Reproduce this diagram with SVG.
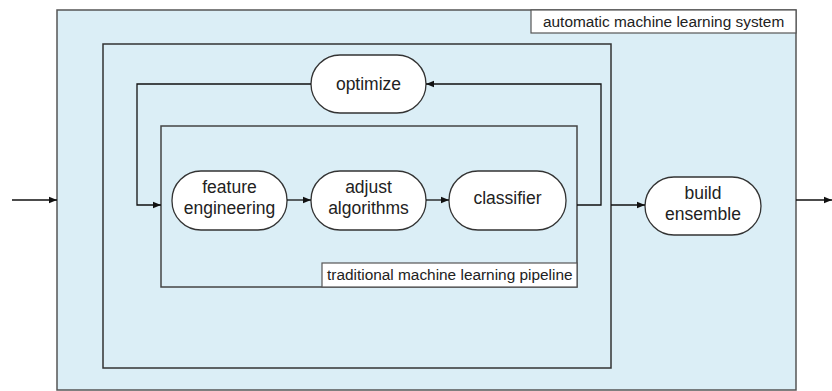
<svg xmlns="http://www.w3.org/2000/svg" width="832" height="391" viewBox="0 0 832 391">
<style>
.frame{fill:#dbeef6;stroke:#555;stroke-width:1.5}
.mid{fill:none;stroke:#333;stroke-width:1.5}
.lbl{fill:#fff;stroke:#555;stroke-width:1.2}
.node{fill:#fff;stroke:#333;stroke-width:1.3}
.t{font-family:"Liberation Sans",Arial,sans-serif;font-size:17.5px;fill:#222;text-anchor:middle}
.lt{font-family:"Liberation Sans",Arial,sans-serif;font-size:15.4px;fill:#222}
.c{fill:none;stroke:#111;stroke-width:1.3}
</style>
<defs>
<marker id="ah" viewBox="0 0 10 10" refX="10" refY="5" markerWidth="10" markerHeight="8" markerUnits="userSpaceOnUse" orient="auto">
<path d="M0,1 L10,5 L0,9 Z" fill="#111"/>
</marker>
</defs>
<g id="automl-system">
<rect class="frame" x="57" y="10" width="739" height="380"/>
<rect class="lbl" x="531" y="10" width="265" height="23"/>
<text class="lt" x="543" y="27">automatic machine learning system</text>
</g>
<g id="optimization-loop">
<rect class="mid" x="103" y="44" width="508" height="324"/>
</g>
<g id="pipeline">
<rect class="frame" x="161" y="126" width="416" height="161" style="stroke:#444"/>
<rect class="lbl" x="322" y="263" width="255" height="24"/>
<text class="lt" x="327" y="280">traditional machine learning pipeline</text>
</g>
<g id="optimize">
<rect class="node" x="311" y="55" width="115" height="58" rx="29" ry="29"/>
<text class="t" x="368.5" y="90">optimize</text>
</g>
<g id="feature-engineering">
<rect class="node" x="172" y="171" width="115" height="59" rx="29" ry="29"/>
<text class="t" x="229.5" y="193">feature</text>
<text class="t" x="229.5" y="214">engineering</text>
</g>
<g id="adjust-algorithms">
<rect class="node" x="311" y="171" width="115" height="59" rx="29" ry="29"/>
<text class="t" x="368.5" y="193">adjust</text>
<text class="t" x="368.5" y="214">algorithms</text>
</g>
<g id="classifier">
<rect class="node" x="449" y="171" width="117" height="59" rx="29" ry="29"/>
<text class="t" x="507.5" y="204">classifier</text>
</g>
<g id="build-ensemble">
<rect class="node" x="645" y="177" width="116" height="58" rx="29" ry="29"/>
<text class="t" x="703" y="199">build</text>
<text class="t" x="703" y="220">ensemble</text>
</g>
<g id="connectors">
<path class="c" d="M12,200 H57" marker-end="url(#ah)"/>
<path class="c" d="M796,200 H832" marker-end="url(#ah)"/>
<path class="c" d="M311,84 H137 V205 H161" marker-end="url(#ah)"/>
<path class="c" d="M287,200 H311" marker-end="url(#ah)"/>
<path class="c" d="M426,200 H449" marker-end="url(#ah)"/>
<path class="c" d="M577,205 H601 V84 H426" marker-end="url(#ah)"/>
<path class="c" d="M611,205 H645" marker-end="url(#ah)"/>
</g>
</svg>
